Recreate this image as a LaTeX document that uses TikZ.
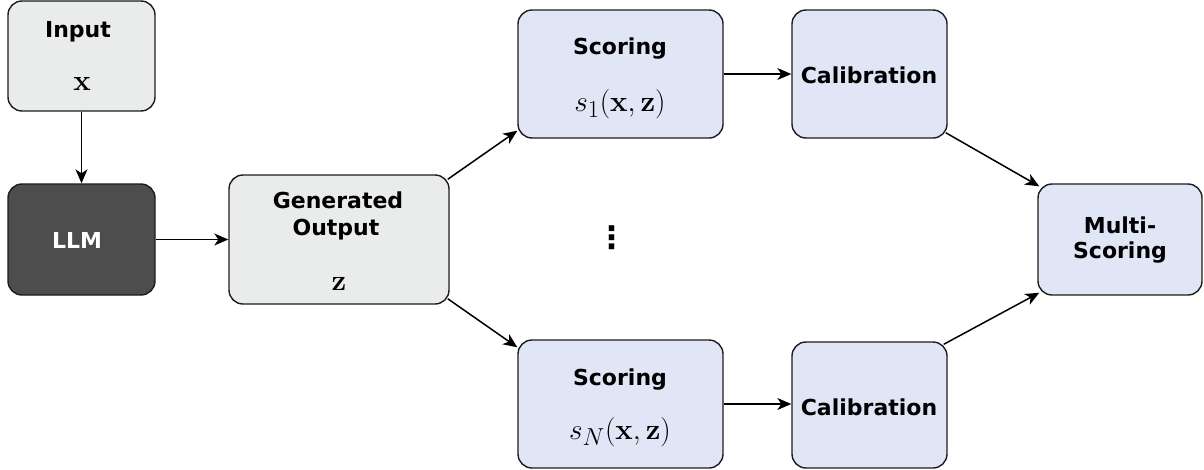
\documentclass[tikz,border=0pt]{standalone}
\usepackage[no-math]{fontspec}
\setmainfont{DejaVu Sans}
\usetikzlibrary{arrows.meta}
\definecolor{boxgray}{HTML}{EAECEB}
\definecolor{boxdark}{HTML}{4D4D4D}
\definecolor{boxblue}{HTML}{E0E6F6}
\definecolor{edge}{HTML}{1C1C1C}
\newcommand{\bigmath}[1]{\scalebox{1.18}{$#1$}}
\begin{document}
\begin{tikzpicture}[x=1pt,y=-1pt,
  box/.style={draw=edge, line width=1.4pt, rounded corners=14pt, inner sep=0pt},
  graybox/.style={box, fill=boxgray},
  darkbox/.style={box, fill=boxdark},
  bluebox/.style={box, fill=boxblue},
  lbl/.style={font=\fontsize{22}{26}\selectfont\bfseries, inner sep=0pt, text=black},
  mlbl/.style={font=\fontsize{24.88}{30}\selectfont, inner sep=0pt},
  conn/.style={line width=1.5pt, draw=black, -{Stealth[length=14pt,width=12pt,inset=4pt]}}]
\useasboundingbox (0,0) rectangle (1204,469);
% boxes
\node[graybox, minimum width=147pt, minimum height=110pt] (input) at (81.5,56) {};
\node[darkbox, minimum width=147pt, minimum height=111pt] (llm) at (81.5,239.5) {};
\node[graybox, minimum width=220pt, minimum height=129pt] (gen) at (339,239.5) {};
\node[bluebox, minimum width=205pt, minimum height=128pt] (s1) at (620.5,74) {};
\node[bluebox, minimum width=205pt, minimum height=128pt] (sn) at (620.5,404) {};
\node[bluebox, minimum width=155pt, minimum height=128pt] (c1) at (869.5,74) {};
\node[bluebox, minimum width=155pt, minimum height=126pt] (cn) at (869.5,405) {};
\node[bluebox, minimum width=164pt, minimum height=111pt] (multi) at (1120,239.5) {};
% labels
\node[lbl] (tinput) at (78,32) {Input};
\node[mlbl] (tx) at (82,84) {\bigmath{\mathbf{x}}};
\node[lbl, text=white] (tllm) at (77,240) {LLM};
\node[lbl] (tgen1) at (338,200) {Generated};
\node[lbl] (tgen2) at (336,230) {Output};
\node[mlbl] (tz) at (339,284) {\bigmath{\mathbf{z}}};
\node[lbl] (ts1) at (620,49) {Scoring};
\node[mlbl] (ms1) at (620,104) {\bigmath{s_1(\mathbf{x},\mathbf{z})}};
\node[lbl] (tsn) at (620,380) {Scoring};
\node[mlbl] (msn) at (620,432) {\bigmath{s_N(\mathbf{x},\mathbf{z})}};
\node[lbl] (tc1) at (869,75) {Calibration};
\node[lbl] (tcn) at (869,407) {Calibration};
\node[lbl] (tm1) at (1120,225) {Multi-};
\node[lbl] (tm2) at (1120,253) {Scoring};
\node[lbl, font=\fontsize{31}{36}\selectfont\bfseries] (dots) at (612,238) {⋮};
% connectors
\draw[conn] (input.south) -- (llm.north);
\draw[conn] (llm.east) -- (gen.west);
\draw[conn] ([shift={(-2,5)}]gen.north east) -- ([shift={(0,-8)}]s1.south west);
\draw[conn] ([shift={(-2,-6)}]gen.south east) -- ([shift={(0,8)}]sn.north west);
\draw[conn] (s1.east) -- (c1.west);
\draw[conn] (sn.east) -- (sn.east -| cn.west);
\draw[conn] ([shift={(-2,-6)}]c1.south east) -- ([shift={(2,3)}]multi.north west);
\draw[conn] ([shift={(-4,3)}]cn.north east) -- ([shift={(2,-3)}]multi.south west);
\end{tikzpicture}
\end{document}
